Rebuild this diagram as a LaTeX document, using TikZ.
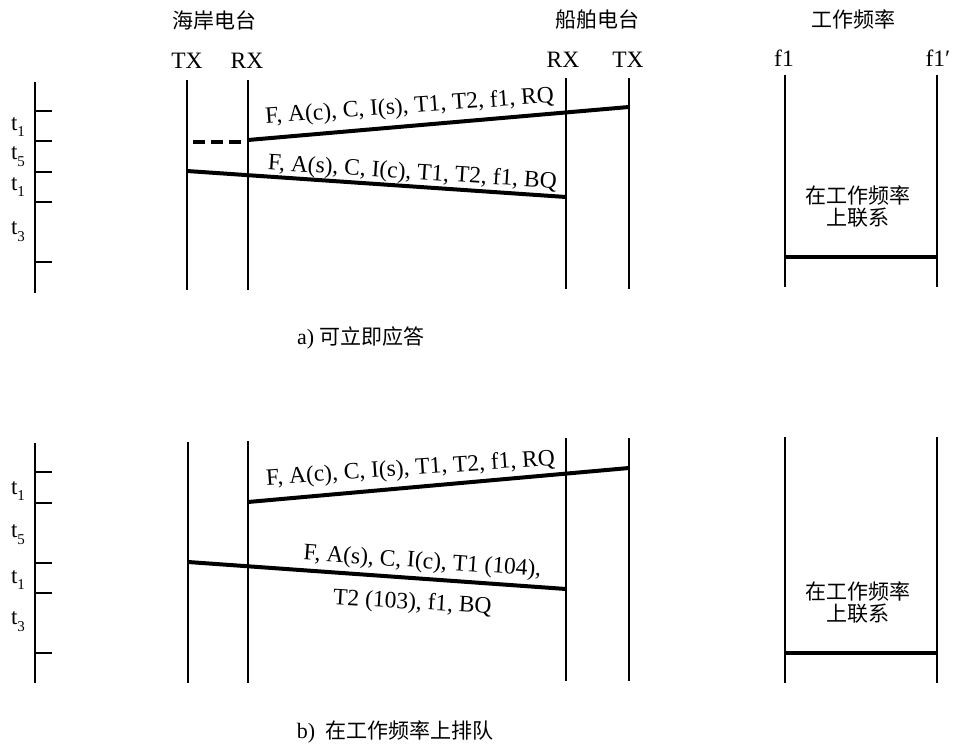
\documentclass[tikz,border=0pt]{standalone}
\usepackage{fontspec}
\setmainfont{Liberation Serif}
\newfontfamily\cjk{Noto Sans CJK SC}
\newcommand{\tsub}[2]{#1\raisebox{-0.3em}{\fontsize{15}{15}\selectfont #2}}
\begin{document}
\begin{tikzpicture}[x=1pt,y=-1pt,
  lat/.style={font=\fontsize{23.5}{26}\selectfont, inner sep=0pt},
  cj/.style={font=\cjk\fontsize{21}{26}\selectfont, inner sep=0pt},
  tl/.style={font=\fontsize{23}{26}\selectfont, inner sep=0pt},
  life/.style={line width=2.4pt},
  thinlife/.style={line width=1.6pt},
  msg/.style={line width=4pt},
  ticks/.style={line width=1.8pt},
  axis/.style={line width=2.4pt},
  dashmsg/.style={line width=4pt, dash pattern=on 12pt off 6pt}]
\useasboundingbox[fill=white] (0,0) rectangle (953,746);

% ---------------- headers ----------------
\node[cj] (hShore) at (214,20) {海岸电台};
\node[cj] (hShip) at (597,20) {船舶电台};
\node[cj] (hFreq) at (853,19) {工作频率};
\node[lat] (hTX1) at (187,61) {TX};
\node[lat] (hRX1) at (247,61) {RX};
\node[lat] (hRX2) at (563,60) {RX};
\node[lat] (hTX2) at (628,60) {TX};
\node[lat] (hf1) at (784,58) {f1};
\node[lat] (hf1p) at (938,58) {f1′};

% ================= diagram a =================
\coordinate (aAxT) at (35,82);
\coordinate (aAxB) at (35,293);
\draw[axis] (aAxT) -- (aAxB);
\foreach \y/\n in {111/1,141/2,172/3,202/4,262/5}{
  \coordinate (aTk\n) at (35,\y);
  \draw[ticks] (aTk\n) -- ++(17,0);
}
\node[tl] (at1) at (18,127) {\tsub{t}{1}};
\node[tl] (at5) at (18,157) {\tsub{t}{5}};
\node[tl] (at1b) at (18,187) {\tsub{t}{1}};
\node[tl] (at3) at (18,232) {\tsub{t}{3}};

\coordinate (aSTXt) at (187,80); \coordinate (aSTXb) at (187,290);
\coordinate (aSRXt) at (248,80); \coordinate (aSRXb) at (248,290);
\coordinate (aPRXt) at (566,78); \coordinate (aPRXb) at (566,289);
\coordinate (aPTXt) at (629,78); \coordinate (aPTXb) at (629,289);
\draw[life] (aSTXt) -- (aSTXb);
\draw[thinlife] (aSRXt) -- (aSRXb);
\draw[life] (aPRXt) -- (aPRXb);
\draw[life] (aPTXt) -- (aPTXb);

\coordinate (aRQs) at (629,107); \coordinate (aRQe) at (248,140);
\draw[msg] (aRQs) -- (aRQe);
\coordinate (aDs) at (193,142); \coordinate (aDe) at (243,142);
\draw[dashmsg] (aDs) -- (aDe);
\coordinate (aBQs) at (187,171); \coordinate (aBQe) at (566,197);
\draw[msg] (aBQs) -- (aBQe);
\node[lat, anchor=base, rotate=4.2] (aRQl) at (410,113) {F, A(c), C, I(s), T1, T2, f1, RQ};
\node[lat, anchor=base, rotate=-3.7] (aBQl) at (412,179) {F, A(s), C, I(c), T1, T2, f1, BQ};

\coordinate (aF1t) at (785,75); \coordinate (aF1b) at (785,287);
\coordinate (aF2t) at (937,75); \coordinate (aF2b) at (937,287);
\draw[life] (aF1t) -- (aF1b);
\draw[life] (aF2t) -- (aF2b);
\coordinate (aHl) at (785,257); \coordinate (aHr) at (937,257);
\draw[msg] (aHl) -- (aHr);
\node[cj] (aW1) at (858,195) {在工作频率};
\node[cj] (aW2) at (858,218) {上联系};

\node[inner sep=0pt] (capA) at (361,338) {\fontsize{22}{24}\selectfont a) {\cjk\fontsize{21}{24}\selectfont 可立即应答}};

% ================= diagram b =================
\coordinate (bAxT) at (35,443);
\coordinate (bAxB) at (35,683);
\draw[axis] (bAxT) -- (bAxB);
\foreach \y/\n in {472/1,503/2,563/3,593/4,653/5}{
  \coordinate (bTk\n) at (35,\y);
  \draw[ticks] (bTk\n) -- ++(17,0);
}
\node[tl] (bt1) at (18,491) {\tsub{t}{1}};
\node[tl] (bt5) at (18,535) {\tsub{t}{5}};
\node[tl] (bt1b) at (18,580) {\tsub{t}{1}};
\node[tl] (bt3) at (18,622) {\tsub{t}{3}};

\coordinate (bSTXt) at (188,442); \coordinate (bSTXb) at (188,683);
\coordinate (bSRXt) at (248,441); \coordinate (bSRXb) at (248,683);
\coordinate (bPRXt) at (566,438); \coordinate (bPRXb) at (566,681);
\coordinate (bPTXt) at (629,438); \coordinate (bPTXb) at (629,681);
\draw[life] (bSTXt) -- (bSTXb);
\draw[thinlife] (bSRXt) -- (bSRXb);
\draw[life] (bPRXt) -- (bPRXb);
\draw[life] (bPTXt) -- (bPTXb);

\coordinate (bRQs) at (629,468); \coordinate (bRQe) at (248,502);
\draw[msg] (bRQs) -- (bRQe);
\coordinate (bBQs) at (188,562); \coordinate (bBQe) at (566,589);
\draw[msg] (bBQs) -- (bBQe);
\node[lat, anchor=base, rotate=4.0] (bRQl) at (411,475) {F, A(c), C, I(s), T1, T2, f1, RQ};
\node[lat, anchor=base, rotate=-4.0] (bBQl1) at (422,568) {F, A(s), C, I(c), T1 (104),};
\node[lat, anchor=base, rotate=-3.3] (bBQl2) at (412,609) {T2 (103), f1, BQ};

\coordinate (bF1t) at (785,437); \coordinate (bF1b) at (785,683);
\coordinate (bF2t) at (937,437); \coordinate (bF2b) at (937,683);
\draw[life] (bF1t) -- (bF1b);
\draw[life] (bF2t) -- (bF2b);
\coordinate (bHl) at (785,653); \coordinate (bHr) at (937,653);
\draw[msg] (bHl) -- (bHr);
\node[cj] (bW1) at (858,591) {在工作频率};
\node[cj] (bW2) at (858,614) {上联系};

\node[inner sep=0pt] (capB) at (395,732) {\fontsize{22}{24}\selectfont b)\hspace{0.45em}{\cjk\fontsize{21}{24}\selectfont 在工作频率上排队}};
\end{tikzpicture}
\end{document}
